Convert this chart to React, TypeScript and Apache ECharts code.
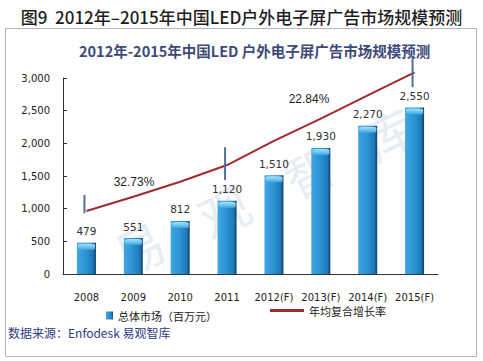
import React, { useEffect, useRef } from "react";
import * as echarts from "echarts";

const categories = ["2008", "2009", "2010", "2011", "2012(F)", "2013(F)", "2014(F)", "2015(F)"];
const marketValues = [479, 551, 812, 1120, 1510, 1930, 2270, 2550];
const growthLine = [964, 1183, 1413, 1668, 2039, 2379, 2734, 3087];
const bracketTicks = [
  [0, 930, 1210],
  [3, 1440, 1940],
  [7, 2860, 3330],
];
const yTicks = { min: 0, max: 3000, interval: 500 };
const growthLabels = ["32.73%", "22.84%"];

const BAR_NAME = "总体市场（百万元）";
const LINE_NAME = "年均复合增长率";

export default function App() {
  const ref = useRef<HTMLDivElement>(null);
  useEffect(() => {
    if (!ref.current) return;
    const chart = echarts.init(ref.current, null, { renderer: "svg" });
    const labelFont = "DejaVu Sans";
    const cjk = "Noto Sans CJK SC";
    const barGradient = new echarts.graphic.LinearGradient(0, 0, 1, 0, [
      { offset: 0, color: "#3ea6e2" },
      { offset: 0.45, color: "#2d95d6" },
      { offset: 0.85, color: "#1e78b8" },
      { offset: 1, color: "#0f3d63" },
    ]);
    const capGradient = new echarts.graphic.LinearGradient(0, 0, 0, 1, [
      { offset: 0, color: "#a8e4fa" },
      { offset: 1, color: "#3ea6e2" },
    ]);
    const wm = "rgba(150,170,205,0.22)";
    const wmFont = "50px 'Noto Sans CJK SC'";
    chart.setOption({
      animation: false,
      backgroundColor: "#ffffff",
      title: [
        {
          text: "图9  2012年–2015年中国LED户外电子屏广告市场规模预测",
          left: "center",
          top: 3,
          textStyle: { fontFamily: cjk, fontSize: 17, fontWeight: 500, color: "#1e1e1e" },
        },
        {
          text: "2012年-2015年中国LED 户外电子屏广告市场规模预测",
          left: 74,
          top: 38,
          textStyle: { fontFamily: cjk, fontSize: 14.5, fontWeight: "bold", color: "#3d4a7a" },
        },
      ],
      graphic: [
        {
          type: "rect",
          shape: { x: 5.5, y: 28.5, width: 471, height: 328 },
          style: { fill: "none", stroke: "#b4b4b4", lineWidth: 1 },
          z: -10,
        },
        { type: "text", x: 105, y: 235, rotation: 0.45, style: { text: "易", font: wmFont, fill: wm }, z: -5 },
        { type: "text", x: 190, y: 198, rotation: 0.45, style: { text: "观", font: wmFont, fill: wm }, z: -5 },
        { type: "text", x: 275, y: 158, rotation: 0.45, style: { text: "智", font: wmFont, fill: wm }, z: -5 },
        { type: "text", x: 355, y: 120, rotation: 0.45, style: { text: "库", font: wmFont, fill: wm }, z: -5 },
        {
          type: "text",
          x: 134,
          y: 182,
          style: { text: growthLabels[0], font: "12px 'Liberation Sans'", fill: "#1e1e1e", textAlign: "center", textVerticalAlign: "middle" },
          z: 10,
        },
        {
          type: "text",
          x: 309,
          y: 99,
          style: { text: growthLabels[1], font: "12px 'Liberation Sans'", fill: "#1e1e1e", textAlign: "center", textVerticalAlign: "middle" },
          z: 10,
        },
        {
          type: "text",
          x: 8,
          y: 332,
          style: { text: "数据来源：Enfodesk 易观智库", font: "12px 'Noto Sans CJK SC'", fill: "#2e3b86", textVerticalAlign: "middle" },
        },
      ],
      legend: [
        {
          data: [{ name: BAR_NAME, icon: "rect" }],
          left: 101,
          top: 305,
          itemWidth: 7,
          itemHeight: 8,
          textStyle: { fontFamily: cjk, fontSize: 11, color: "#222" },
        },
        {
          data: [{ name: LINE_NAME, icon: "rect" }],
          left: 265,
          top: 300,
          itemWidth: 34,
          itemHeight: 3,
          textStyle: { fontFamily: cjk, fontSize: 11, color: "#222", padding: [22, 0, 0, 0] },
        },
      ],
      grid: { left: 63, right: 45, top: 78, bottom: 87 },
      xAxis: {
        type: "category",
        data: categories,
        axisLine: { lineStyle: { color: "#333", width: 1 } },
        axisTick: { inside: true, length: 5, lineStyle: { color: "#333" } },
        axisLabel: { interval: 0, fontFamily: labelFont, fontSize: 10, color: "#222", margin: 18 },
      },
      yAxis: {
        type: "value",
        min: yTicks.min,
        max: yTicks.max,
        interval: yTicks.interval,
        axisLine: { show: true, lineStyle: { color: "#333", width: 1 } },
        axisTick: { show: true, inside: true, length: 4, lineStyle: { color: "#333" } },
        splitLine: { show: false },
        axisLabel: {
          fontFamily: labelFont,
          fontSize: 10,
          color: "#222",
          margin: 13,
          formatter: (v: number) => v.toLocaleString("en-US"),
        },
      },
      series: [
        {
          name: BAR_NAME,
          type: "bar",
          data: marketValues,
          barWidth: 19,
          barGap: "-100%",
          itemStyle: { color: barGradient },
          label: {
            show: true,
            position: "top",
            distance: 6,
            fontFamily: labelFont,
            fontSize: 10.5,
            color: "#333",
            formatter: (p: any) => Number(p.value).toLocaleString("en-US"),
          },
          z: 2,
        },
        {
          type: "pictorialBar",
          data: marketValues,
          symbol: "roundRect",
          symbolSize: [17, 6],
          symbolPosition: "end",
          symbolOffset: [0, 1],
          barWidth: 19,
          itemStyle: { color: capGradient },
          z: 3,
          silent: true,
        },
        {
          name: LINE_NAME,
          type: "line",
          data: growthLine,
          showSymbol: false,
          symbol: "none",
          clip: false,
          lineStyle: { color: "#a02a2c", width: 2 },
          itemStyle: { color: "#a02a2c" },
          z: 5,
        },
        {
          type: "custom",
          data: bracketTicks,
          clip: false,
          z: 6,
          renderItem: (_params: any, api: any) => {
            const x = api.value(0);
            const p1 = api.coord([x, api.value(1)]);
            const p2 = api.coord([x, api.value(2)]);
            return {
              type: "line",
              shape: { x1: p1[0] - 2, y1: p1[1], x2: p2[0] - 2, y2: p2[1] },
              style: { stroke: "#4f6f9c", lineWidth: 2 },
            };
          },
        },
      ],
    });
    return () => chart.dispose();
  }, []);
  return (
    <div
      ref={ref}
      style={{ position: "fixed", left: 0, top: 0, width: 483, height: 361, background: "#fff" }}
    />
  );
}
